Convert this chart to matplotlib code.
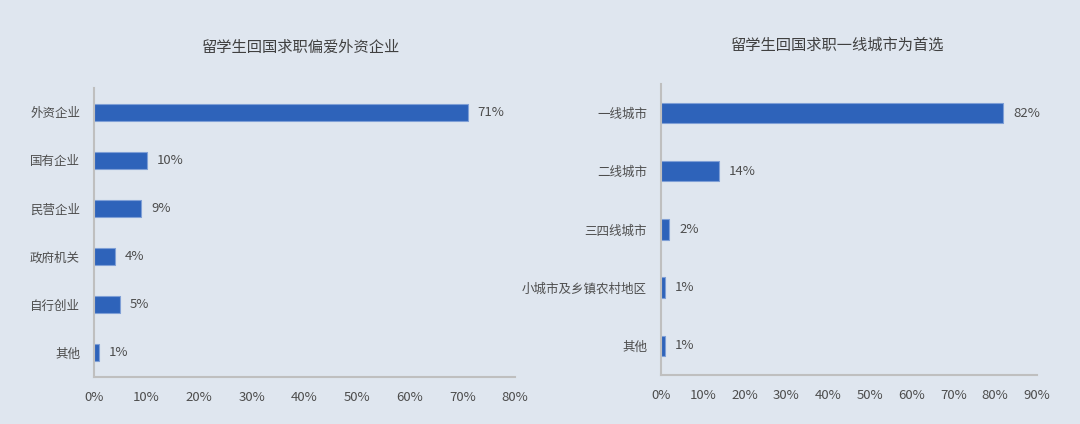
import matplotlib
matplotlib.use('Agg')
import matplotlib.pyplot as plt
from matplotlib.ticker import FuncFormatter, MultipleLocator

plt.rcParams['font.family'] = ['Noto Sans CJK SC', 'DejaVu Sans']

# left chart: preferred employer type
left_title = '留学生回国求职偏爱外资企业'
left_cats = ['外资企业', '国有企业', '民营企业', '政府机关', '自行创业', '其他']
left_vals = [71, 10, 9, 4, 5, 1]

# right chart: preferred city tier
right_title = '留学生回国求职一线城市为首选'
right_cats = ['一线城市', '二线城市', '三四线城市', '小城市及乡镇农村地区', '其他']
right_vals = [82, 14, 2, 1, 1]

bg = '#dfe6ef'
bar_color = '#2e63ba'
edge_color = '#7f9fd6'
text_color = '#4d4d4d'
spine_color = '#bfbfbf'

fig = plt.figure(figsize=(10.8, 4.24), dpi=100, facecolor=bg)
ax1 = fig.add_axes([0.087, 0.111, 0.390, 0.681])
ax2 = fig.add_axes([0.612, 0.116, 0.348, 0.686])


def draw(ax, cats, vals, xmax, bar_h):
    ax.set_facecolor(bg)
    pos = list(range(len(cats)))[::-1]
    ax.barh(pos, vals, height=bar_h, color=bar_color, edgecolor=edge_color, linewidth=0.8)
    for p, v in zip(pos, vals):
        ax.annotate(f'{v}%', (v, p), xytext=(7, 0), textcoords='offset points',
                    va='center', ha='left', fontsize=9.5, color=text_color)
    ax.set_yticks(pos)
    ax.set_yticklabels(cats, fontsize=9, color=text_color)
    ax.set_ylim(-0.5, len(cats) - 0.5)
    ax.set_xlim(0, xmax)
    ax.xaxis.set_major_locator(MultipleLocator(10))
    ax.xaxis.set_major_formatter(FuncFormatter(lambda x, _: f'{x:.0f}%'))
    ax.tick_params(axis='x', length=0, labelsize=9.5, labelcolor=text_color, pad=10)
    ax.tick_params(axis='y', length=0, pad=10)
    for s in ['top', 'right']:
        ax.spines[s].set_visible(False)
    for s in ['left', 'bottom']:
        ax.spines[s].set_color(spine_color)
        ax.spines[s].set_linewidth(1.5)


draw(ax1, left_cats, left_vals, 80, 0.35)
draw(ax2, right_cats, right_vals, 90, 0.35)

fig.text(301 / 1080, 1 - 47 / 424, left_title, ha='center', va='center',
         fontsize=11, color='#404040')
fig.text(838 / 1080, 1 - 45 / 424, right_title, ha='center', va='center',
         fontsize=11, color='#404040')

fig.savefig('out.png', dpi=100, facecolor=bg)
